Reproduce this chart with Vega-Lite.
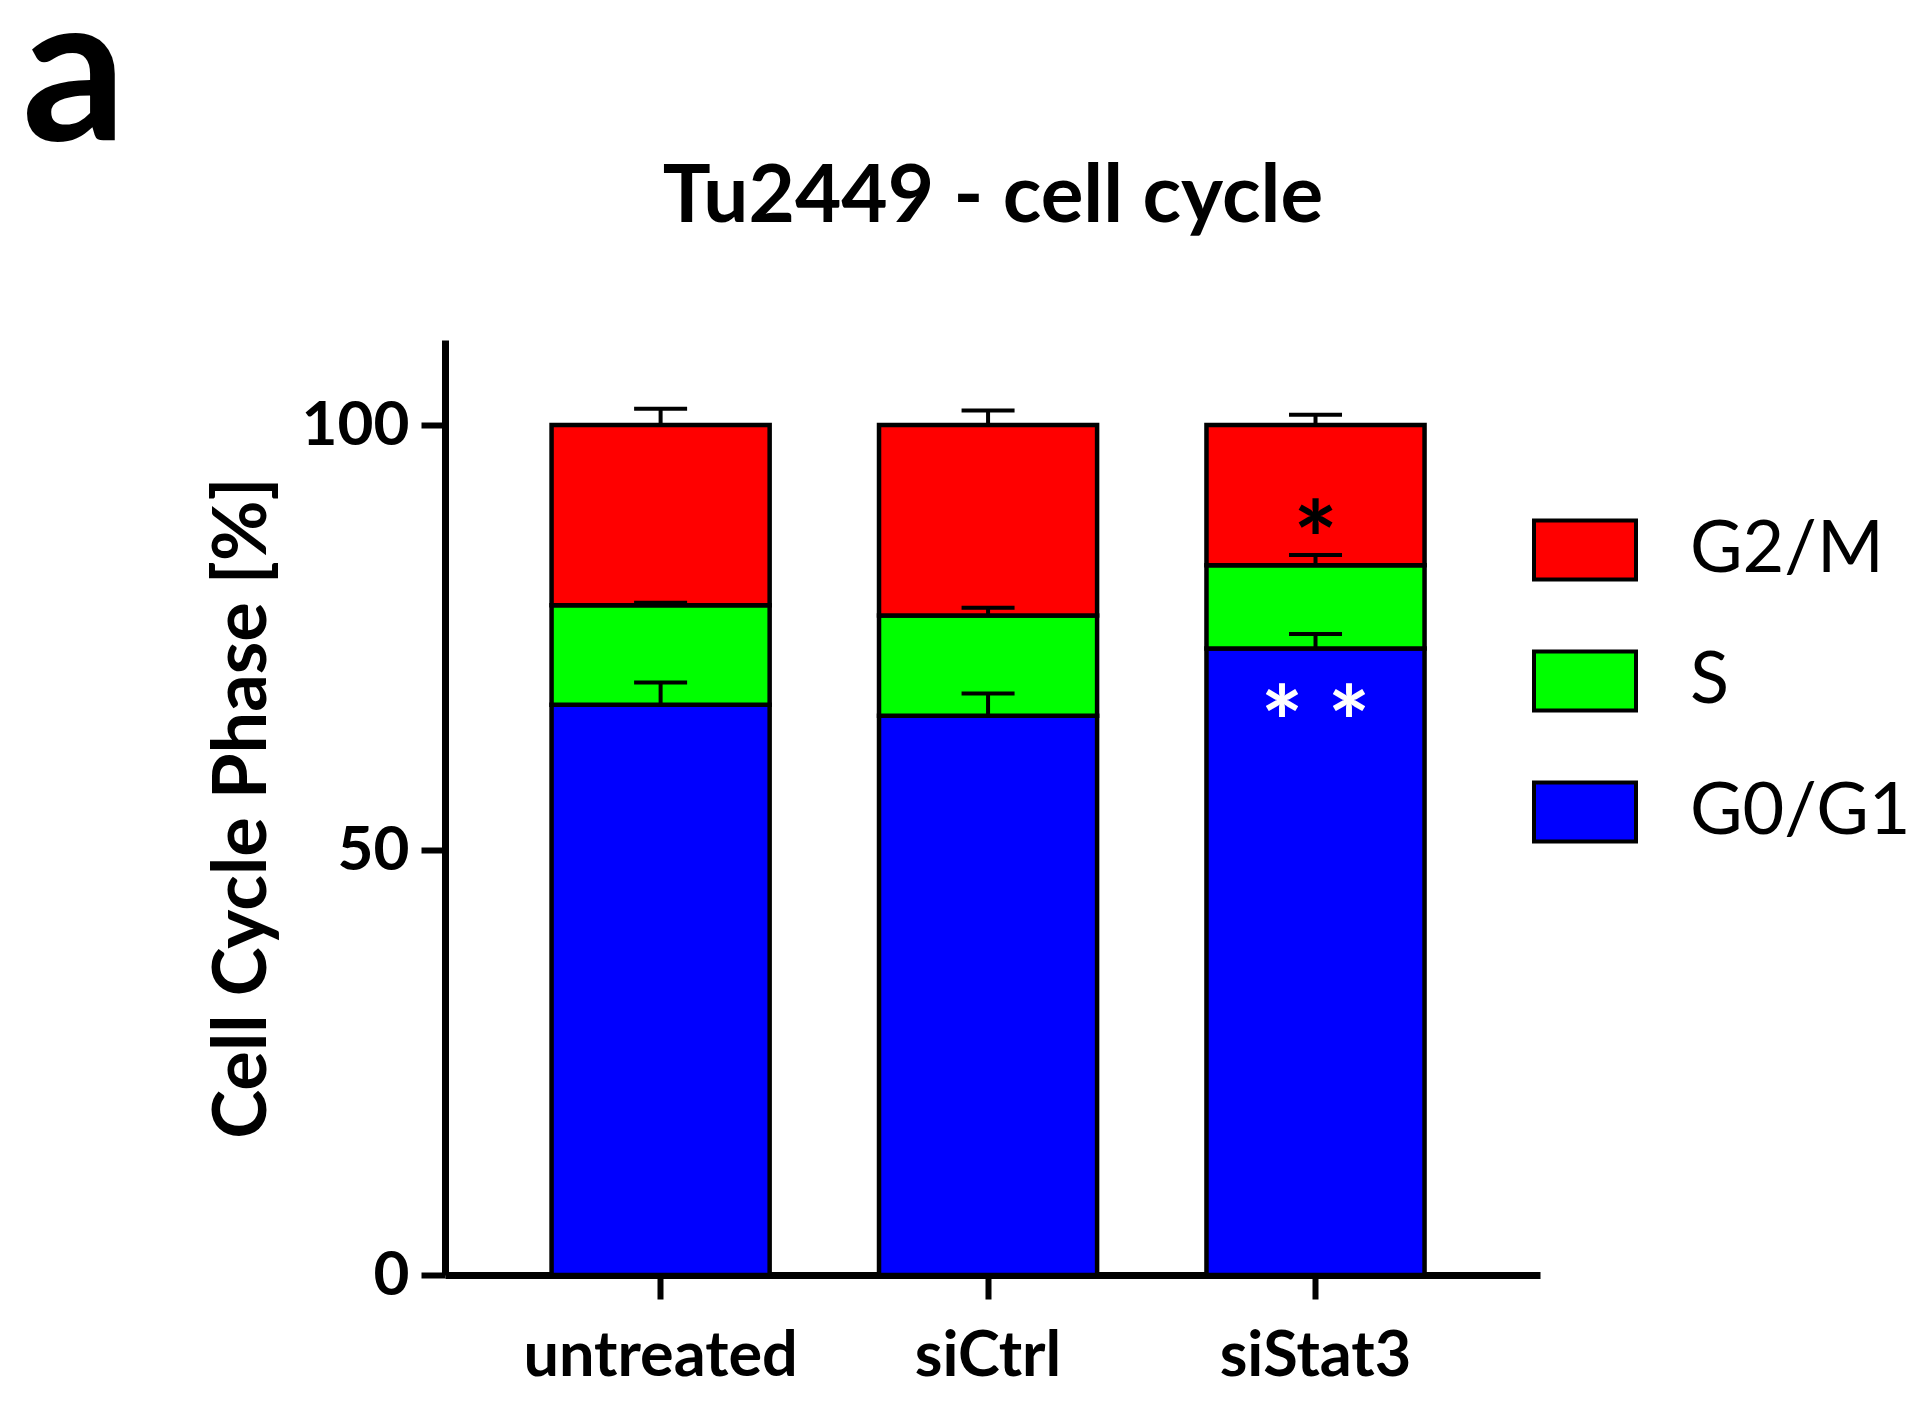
{
  "$schema": "https://vega.github.io/schema/vega-lite/v6.json",
  "width": 1095,
  "height": 935,
  "autosize": {"type": "none"},
  "padding": {"left": 445, "top": 340, "right": 376, "bottom": 148},
  "background": "white",
  "title": {
    "text": "a",
    "anchor": "start",
    "frame": "group",
    "font": "Lato",
    "fontWeight": "bold",
    "fontSize": 205,
    "color": "black",
    "dx": -423,
    "dy": 188,
    "baseline": "alphabetic",
    "offset": 0
  },
  "datasets": {
    "phases": [
      {"condition": "untreated", "phase": "G0/G1", "rank": 1, "value": 67.1},
      {"condition": "untreated", "phase": "S", "rank": 2, "value": 11.7},
      {"condition": "untreated", "phase": "G2/M", "rank": 3, "value": 21.2},
      {"condition": "siCtrl", "phase": "G0/G1", "rank": 1, "value": 65.8},
      {"condition": "siCtrl", "phase": "S", "rank": 2, "value": 11.8},
      {"condition": "siCtrl", "phase": "G2/M", "rank": 3, "value": 22.4},
      {"condition": "siStat3", "phase": "G0/G1", "rank": 1, "value": 73.7},
      {"condition": "siStat3", "phase": "S", "rank": 2, "value": 9.8},
      {"condition": "siStat3", "phase": "G2/M", "rank": 3, "value": 16.5}
    ],
    "errors": [
      {"condition": "untreated", "phase": "G0/G1", "base": 67.1, "cap": 69.7},
      {"condition": "untreated", "phase": "S", "base": 78.8, "cap": 79.1},
      {"condition": "untreated", "phase": "G2/M", "base": 100, "cap": 101.9},
      {"condition": "siCtrl", "phase": "G0/G1", "base": 65.8, "cap": 68.4},
      {"condition": "siCtrl", "phase": "S", "base": 77.6, "cap": 78.5},
      {"condition": "siCtrl", "phase": "G2/M", "base": 100, "cap": 101.7},
      {"condition": "siStat3", "phase": "G0/G1", "base": 73.7, "cap": 75.4},
      {"condition": "siStat3", "phase": "S", "base": 83.5, "cap": 84.7},
      {"condition": "siStat3", "phase": "G2/M", "base": 100, "cap": 101.2}
    ],
    "starsBlack": [{"condition": "siStat3", "y": 89.7, "label": "*"}],
    "starsWhite": [{"condition": "siStat3", "y": 68.1, "label": "* *"}]
  },
  "layer": [
    {
      "data": {"name": "phases"},
      "mark": {"type": "bar", "stroke": "black", "strokeWidth": 4.5, "opacity": 1},
      "encoding": {
        "x": {
          "field": "condition",
          "type": "nominal",
          "sort": ["untreated", "siCtrl", "siStat3"],
          "scale": {"paddingInner": 0.334, "paddingOuter": 0.339, "align": 0.48},
          "axis": {
            "title": null,
            "labelAngle": 0,
            "labelFont": "Lato",
            "labelFontWeight": "bold",
            "labelFontSize": 63,
            "labelPadding": 26,
            "labelLimit": 600,
            "labelColor": "black"
          }
        },
        "y": {
          "field": "value",
          "type": "quantitative",
          "stack": "zero",
          "scale": {"domain": [0, 110], "nice": false},
          "axis": {
            "values": [0, 50, 100],
            "title": "Cell Cycle Phase [%]",
            "titleFont": "Lato",
            "titleFontWeight": "bold",
            "titleFontSize": 74,
            "titleColor": "black",
            "titlePadding": 20,
            "labelFont": "Lato",
            "labelFontWeight": "bold",
            "labelFontSize": 62,
            "labelPadding": 12,
            "labelColor": "black"
          }
        },
        "color": {
          "field": "phase",
          "type": "nominal",
          "scale": {"domain": ["G2/M", "S", "G0/G1"], "range": ["#ff0000", "#00ff00", "#0000ff"]},
          "legend": {
            "title": null,
            "orient": "none",
            "legendX": 1087,
            "legendY": 157,
            "padding": 0,
            "symbolType": "M-1,-0.58L1,-0.58L1,0.58L-1,0.58Z",
            "symbolSize": 10404,
            "symbolStrokeColor": "black",
            "symbolStrokeWidth": 4,
            "symbolOpacity": 1,
            "rowPadding": 40,
            "labelOffset": 52,
            "labelFont": "Lato",
            "labelFontSize": 72,
            "labelColor": "black",
            "labelLimit": 400
          }
        },
        "order": {"field": "rank", "type": "quantitative"}
      }
    },
    {
      "data": {"name": "errors"},
      "mark": {"type": "rule", "strokeWidth": 4, "color": "black"},
      "encoding": {
        "x": {"field": "condition", "type": "nominal", "sort": ["untreated", "siCtrl", "siStat3"], "axis": null},
        "y": {"field": "base", "type": "quantitative"},
        "y2": {"field": "cap"}
      }
    },
    {
      "data": {"name": "errors"},
      "mark": {"type": "tick", "size": 53, "thickness": 4, "color": "black", "opacity": 1},
      "encoding": {
        "x": {"field": "condition", "type": "nominal", "sort": ["untreated", "siCtrl", "siStat3"], "axis": null},
        "y": {"field": "cap", "type": "quantitative"}
      }
    },
    {
      "data": {"name": "starsBlack"},
      "mark": {"type": "text", "font": "Lato", "fontWeight": "bold", "fontSize": 105, "color": "black", "baseline": "middle", "align": "center", "dy": 33},
      "encoding": {
        "x": {
          "field": "condition",
          "type": "nominal",
          "sort": ["untreated", "siCtrl", "siStat3"],
          "axis": {
            "orient": "top",
            "title": "Tu2449 - cell cycle",
            "titleFont": "Lato",
            "titleFontWeight": "bold",
            "titleFontSize": 80,
            "titleColor": "black",
            "titlePadding": 102,
            "labels": false,
            "ticks": false,
            "domain": false
          }
        },
        "y": {"field": "y", "type": "quantitative"},
        "text": {"field": "label"}
      }
    },
    {
      "data": {"name": "starsWhite"},
      "mark": {"type": "text", "font": "Lato", "fontWeight": "bold", "fontSize": 100, "color": "white", "baseline": "middle", "align": "center", "dy": 33},
      "encoding": {
        "x": {"field": "condition", "type": "nominal", "sort": ["untreated", "siCtrl", "siStat3"], "axis": null},
        "y": {"field": "y", "type": "quantitative"},
        "text": {"field": "label"}
      }
    }
  ],
  "resolve": {"axis": {"x": "independent"}},
  "config": {
    "view": {"stroke": null},
    "axis": {
      "grid": false,
      "domainColor": "black",
      "domainWidth": 7,
      "tickColor": "black",
      "tickWidth": 6,
      "tickSize": 24
    }
  }
}
